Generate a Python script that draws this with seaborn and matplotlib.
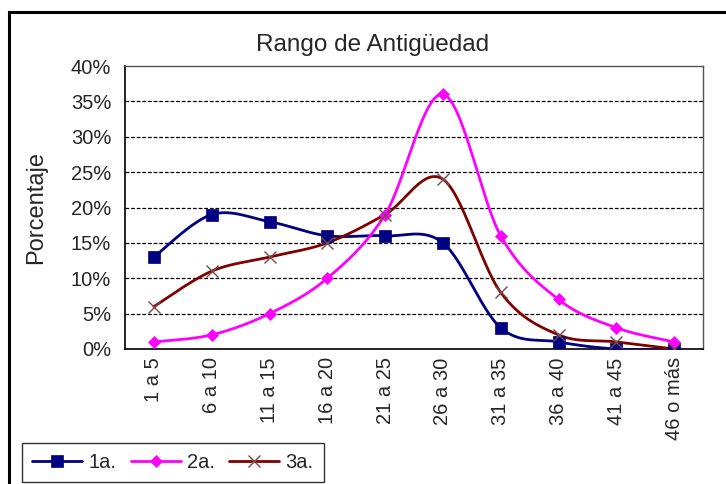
import numpy as np
import pandas as pd
import matplotlib
matplotlib.use("Agg")
import matplotlib.pyplot as plt
import seaborn as sns
from matplotlib.lines import Line2D
from matplotlib.patches import Rectangle

categories = ["1 a 5", "6 a 10", "11 a 15", "16 a 20", "21 a 25", "26 a 30",
              "31 a 35", "36 a 40", "41 a 45", "46 o más"]
serie_1a = [13, 19, 18, 16, 16, 15, 3, 1, 0, 0]
serie_2a = [1, 2, 5, 10, 19, 36, 16, 7, 3, 1]
serie_3a = [6, 11, 13, 15, 19, 24, 8, 2, 1, 0]
series_names = ["1a.", "2a.", "3a."]
yticks = [0, 5, 10, 15, 20, 25, 30, 35, 40]

sns.set_theme(style="white")
plt.rcParams["font.family"] = ["Liberation Sans", "DejaVu Sans"]


def smooth(y, n=30):
    """Catmull-Rom style smoothing (like Excel's smoothed line) through data points."""
    x = np.arange(len(y), dtype=float)
    y = np.asarray(y, dtype=float)
    xs, ys = [], []
    for i in range(len(y) - 1):
        p0 = np.array([x[max(i - 1, 0)], y[max(i - 1, 0)]])
        p1 = np.array([x[i], y[i]])
        p2 = np.array([x[i + 1], y[i + 1]])
        p3 = np.array([x[min(i + 2, len(y) - 1)], y[min(i + 2, len(y) - 1)]])
        c1 = p1 + (p2 - p0) / 6.0
        c2 = p2 - (p3 - p1) / 6.0
        t = np.linspace(0, 1, n, endpoint=(i == len(y) - 2))
        b = ((1 - t) ** 3)[:, None] * p1 + (3 * (1 - t) ** 2 * t)[:, None] * c1 \
            + (3 * (1 - t) * t ** 2)[:, None] * c2 + (t ** 3)[:, None] * p2
        xs.extend(b[:, 0]); ys.extend(b[:, 1])
    return np.array(xs), np.array(ys)


fig = plt.figure(figsize=(7.26, 4.84), dpi=100)
ax = fig.add_axes([125 / 726, 1 - 349 / 484, (703 - 125) / 726, (349 - 66) / 484])

styles = [
    dict(color="#000080", marker="s", ms=8, mew=0.5, mfc="#000080"),
    dict(color="#FF00FF", marker="D", ms=6.5, mew=0.5, mfc="#FF00FF"),
    dict(color="#800000", marker="x", ms=9, mew=1.0, mfc="none"),
]
data = [serie_1a, serie_2a, serie_3a]
handles = []
for name, vals, st in zip(series_names, data, styles):
    sx, sy = smooth(vals)
    sns.lineplot(x=sx, y=sy, ax=ax, color=st["color"], lw=2, sort=False,
                 estimator=None, zorder=3)
    mcol = st["color"] if st["marker"] != "x" else "#7a4a4a"
    ax.plot(np.arange(len(vals)), vals, linestyle="none", marker=st["marker"],
            ms=st["ms"], mew=st["mew"], color=mcol, mfc=st["mfc"],
            mec=mcol, zorder=4)
    handles.append(Line2D([0], [0], color=st["color"], lw=2, marker=st["marker"],
                          ms=st["ms"], mew=st["mew"], mfc=st["mfc"], mec=mcol))

ax.set_xlim(-0.5, len(categories) - 0.5)
ax.set_ylim(0, 40)
ax.set_yticks(yticks)
ax.set_yticklabels([f"{v}%" for v in yticks], fontsize=14.5)
ax.set_xticks(np.arange(len(categories)))
ax.set_xticklabels(categories, rotation=90, fontsize=14.5)
ax.tick_params(axis="x", which="major", length=0, pad=6)
ax.set_xticks(np.arange(len(categories) + 1) - 0.5, minor=True)
ax.tick_params(axis="x", which="minor", length=6, width=1, color="black", direction="out")
ax.tick_params(axis="y", length=6, width=1, color="black", direction="out", pad=4)
for v in yticks[1:-1]:
    ax.axhline(v, color="black", lw=0.9, ls=(0, (3, 1.5)), zorder=1)
for s in ["left", "bottom"]:
    ax.spines[s].set_color("black")
    ax.spines[s].set_linewidth(1.2)
for s in ["top", "right"]:
    ax.spines[s].set_color("#555555")
    ax.spines[s].set_linewidth(1.0)
ax.set_xlabel("")
ax.set_ylabel("Porcentaje", fontsize=17)
ax.yaxis.set_label_coords(-0.134, 0.5)
ax.grid(False)

fig.text(373 / 726, 1 - 45 / 484, "Rango de Antigüedad", ha="center", va="center",
         fontsize=17.5)

leg = fig.legend(handles, series_names, loc="lower left",
                 bbox_to_anchor=(22 / 726, 2 / 484), ncol=3, fontsize=14.5,
                 frameon=True, fancybox=False, edgecolor="black",
                 handlelength=2.5, handletextpad=0.3, columnspacing=0.7,
                 borderpad=0.5, borderaxespad=0)
leg.get_frame().set_linewidth(1.0)

fig.patches.append(Rectangle((9 / 726, -0.05), 1.2, 1 - 12 / 484 + 0.05,
                             transform=fig.transFigure, fill=False,
                             edgecolor="black", lw=2.2, zorder=0))

fig.savefig("out.png", dpi=100)
